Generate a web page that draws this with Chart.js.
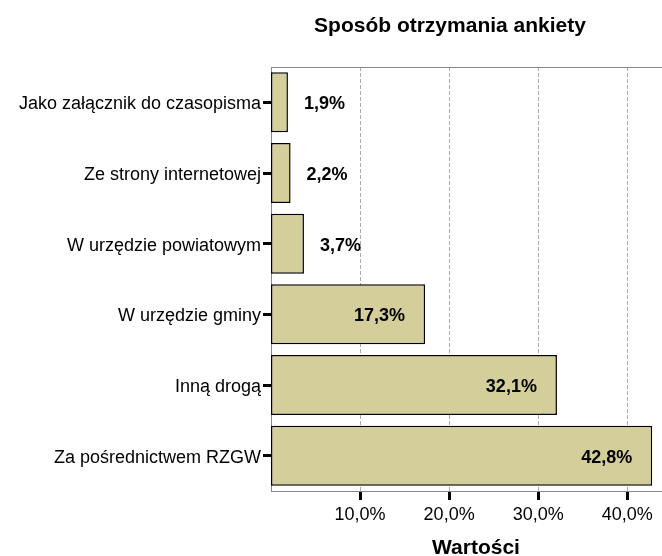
<!DOCTYPE html>
<html>
<head>
<meta charset="utf-8">
<script src="https://cdn.jsdelivr.net/npm/chart.js@4"></script>
<style>
  body { margin: 0; background: #fff; }
  #wrap { width: 662px; height: 556px; position: relative; }
</style>
</head>
<body>
<div id="wrap"><canvas id="ankieta"></canvas></div>
<script>
const categories = [
  "Jako załącznik do czasopisma",
  "Ze strony internetowej",
  "W urzędzie powiatowym",
  "W urzędzie gminy",
  "Inną drogą",
  "Za pośrednictwem RZGW",
];
const values = [1.9, 2.2, 3.7, 17.3, 32.1, 42.8];
const tickValues = [10, 20, 30, 40];
const chartTitle = "Sposób otrzymania ankiety";
const axisTitle = "Wartości";

const FONT = "'Liberation Sans', Arial, sans-serif";

function pct(v) {
  return v.toFixed(1).replace(".", ",") + "%";
}

// labels on the bars, title and top frame line
const extras = {
  id: "extras",
  afterDatasetsDraw(chart) {
    const ctx = chart.ctx;
    const meta = chart.getDatasetMeta(0);
    ctx.save();
    ctx.font = "bold 18px " + FONT;
    ctx.fillStyle = "#000";
    ctx.textBaseline = "middle";
    meta.data.forEach((bar, i) => {
      const v = values[i];
      if (v > 10) {
        ctx.textAlign = "right";
        ctx.fillText(pct(v), bar.x - 20, bar.y + 2);
      } else {
        ctx.textAlign = "left";
        ctx.fillText(pct(v), bar.x + 16, bar.y + 2);
      }
    });
    ctx.restore();
  },
  afterDraw(chart) {
    const ctx = chart.ctx;
    const area = chart.chartArea;
    ctx.save();
    ctx.strokeStyle = "#888";
    ctx.lineWidth = 1;
    ctx.beginPath();
    ctx.moveTo(area.left, area.top + 0.5);
    ctx.lineTo(area.right, area.top + 0.5);
    ctx.stroke();

    ctx.fillStyle = "#000";
    ctx.textAlign = "center";
    ctx.textBaseline = "middle";
    ctx.font = "bold 21px " + FONT;
    ctx.fillText(chartTitle, 450, 26);
    ctx.fillText(axisTitle, 476, 548);
    ctx.restore();
  },
};

document.addEventListener("DOMContentLoaded", () => {
  const ctx = document.getElementById("ankieta").getContext("2d");
  new Chart(ctx, {
    type: "bar",
    data: {
      labels: categories,
      datasets: [
        {
          data: values,
          backgroundColor: "#d3ce9a",
          borderColor: "#000",
          borderWidth: 1.5,
          borderSkipped: false,
          categoryPercentage: 1,
          barPercentage: 0.85,
        },
      ],
    },
    options: {
      indexAxis: "y",
      responsive: true,
      maintainAspectRatio: false,
      animation: false,
      layout: { padding: { top: 67, left: 0, right: 0, bottom: 0 } },
      plugins: {
        legend: { display: false },
        tooltip: { enabled: false },
      },
      scales: {
        x: {
          min: 0,
          max: 43.9,
          afterBuildTicks: (scale) => {
            scale.ticks = tickValues.map((v) => ({ value: v }));
          },
          afterFit: (scale) => {
            scale.height = 65;
          },
          grid: {
            color: "#aaa",
            lineWidth: 1,
            tickColor: "#000",
            tickWidth: 3,
            tickLength: 9,
            tickBorderDash: [],
          },
          border: { display: true, color: "#888", width: 1, dash: [4, 2] },
          ticks: {
            color: "#000",
            font: { family: FONT, size: 18 },
            padding: 4,
            maxRotation: 0,
            callback: (v) => pct(v),
          },
        },
        y: {
          afterFit: (scale) => {
            scale.width = 271;
          },
          grid: {
            offset: false,
            drawOnChartArea: false,
            tickColor: "#000",
            tickWidth: 3,
            tickLength: 8,
          },
          border: { display: true, color: "#888", width: 1 },
          ticks: {
            color: "#000",
            font: { family: FONT, size: 18 },
            padding: 2,
            labelOffset: 2,
          },
        },
      },
    },
    plugins: [extras],
  });
});
</script>
</body>
</html>
